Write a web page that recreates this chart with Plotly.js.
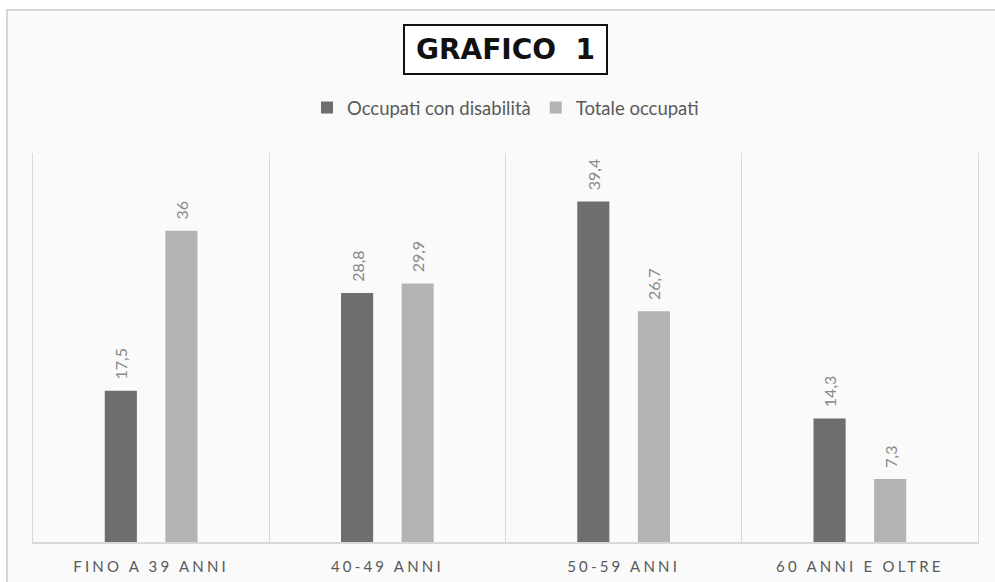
<!DOCTYPE html>
<html>
<head>
<meta charset="utf-8">
<script src="https://cdn.plot.ly/plotly-3.0.1.min.js"></script>
<style>
  html, body { margin: 0; padding: 0; background: #ffffff; width: 995px; height: 582px; overflow: hidden; }
  #frame { position: absolute; left: 6px; top: 9px; width: 989px; height: 573px;
           border-top: 2px solid #d6d6d6; border-left: 2px solid #d6d6d6; background: #fafafa; box-sizing: border-box; }
  #chart { position: absolute; left: 0; top: 0; width: 987px; height: 571px; }
  .xtick text { letter-spacing: 3.2px; }
</style>
</head>
<body>
<div id="frame"><div id="chart"></div></div>
<script>
const categories = ["FINO A 39 ANNI", "40-49 ANNI", "50-59 ANNI", "60 ANNI E OLTRE"];
const seriesNames = ["Occupati con disabilità", "Totale occupati"];
const occupatiDisabilita = [17.5, 28.8, 39.4, 14.3];
const totaleOccupati = [36, 29.9, 26.7, 7.3];
const chartTitle = "GRAFICO  1";

const fmt = v => '\u00a0\u00a0' + String(v).replace('.', ',');
const fontFam = "Lato, 'Open Sans', sans-serif";

const traces = [
  {
    type: 'bar', name: seriesNames[0], x: categories, y: occupatiDisabilita,
    marker: { color: '#6e6e6e' },
    text: occupatiDisabilita.map(fmt), textposition: 'outside', textangle: -90, constraintext: 'none',
    textfont: { color: '#8a8a8a', size: 16, family: fontFam }, cliponaxis: false,
    hoverinfo: 'skip'
  },
  {
    type: 'bar', name: seriesNames[1], x: categories, y: totaleOccupati,
    marker: { color: '#b3b3b3' },
    text: totaleOccupati.map(fmt), textposition: 'outside', textangle: -90, constraintext: 'none',
    textfont: { color: '#8a8a8a', size: 16, family: fontFam }, cliponaxis: false,
    hoverinfo: 'skip'
  }
];

const layout = {
  width: 987, height: 571,
  paper_bgcolor: '#fafafa', plot_bgcolor: '#fafafa',
  margin: { l: 25, r: 17, t: 142, b: 40 },
  font: { family: fontFam, color: '#595959' },
  barmode: 'group', bargap: 0.487, bargroupgap: 0.47,
  showlegend: true,
  legend: {
    orientation: 'h', x: 0.5, xanchor: 'center', y: 1.1157, yanchor: 'middle',
    font: { size: 18.5, color: '#595959', family: fontFam }, bgcolor: 'rgba(0,0,0,0)',
    itemwidth: 30, tracegroupgap: 0, itemclick: false
  },
  xaxis: {
    type: 'category', tickson: 'boundaries', showgrid: true, gridcolor: '#d9d9d9', gridwidth: 1,
    showline: true, linecolor: '#d9d9d9', linewidth: 2, ticks: '', ticklabelstandoff: 10,
    tickfont: { size: 15, color: '#595959', family: fontFam }, fixedrange: true
  },
  yaxis: {
    range: [0, 45], showticklabels: false, showgrid: false, zeroline: false,
    showline: true, mirror: true, linecolor: '#d9d9d9', linewidth: 1, ticks: '', fixedrange: true
  },
  annotations: [
    {
      text: '<b>' + chartTitle + '</b>', xref: 'paper', yref: 'paper',
      x: 0.4995, y: 1.2648, xanchor: 'center', yanchor: 'middle', showarrow: false,
      font: { size: 28, color: '#111111', family: "'DejaVu Sans', sans-serif" },
      bordercolor: '#111111', borderwidth: 2, borderpad: 0, width: 201, height: 47,
      bgcolor: '#ffffff'
    }
  ]
};

Plotly.newPlot('chart', traces, layout, { displayModeBar: false, staticPlot: true });
</script>
</body>
</html>
